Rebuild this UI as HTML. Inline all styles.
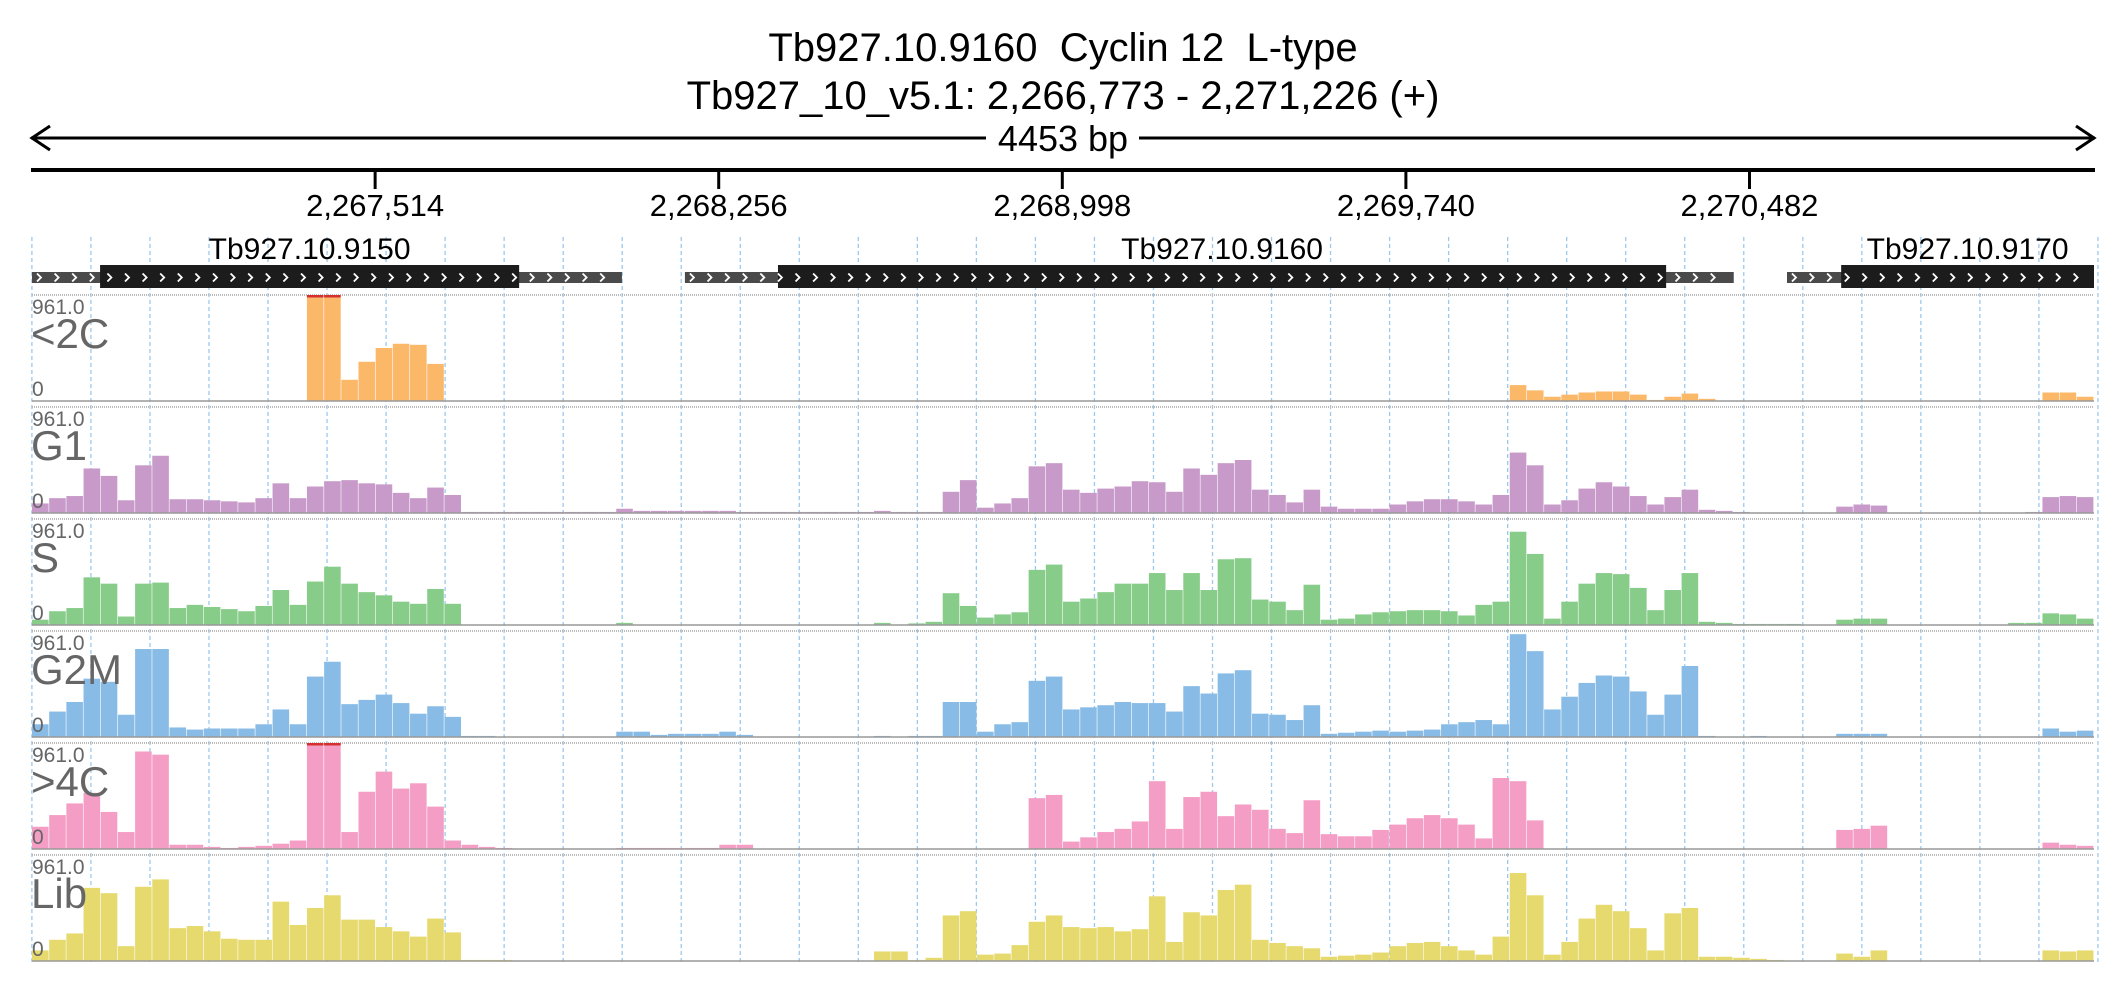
<!DOCTYPE html>
<html><head><meta charset="utf-8"><style>
html,body{margin:0;padding:0;background:#fff;}
svg{display:block;font-family:"Liberation Sans",sans-serif;}
text{white-space:pre;}
</style></head><body>
<svg id="chart" width="2126" height="1000" viewBox="0 0 2126 1000" xmlns="http://www.w3.org/2000/svg">
<text x="1063" y="61" text-anchor="middle" font-size="40" fill="#000" xml:space="preserve">Tb927.10.9160  Cyclin 12  L-type</text>
<text x="1063" y="109" text-anchor="middle" font-size="40" fill="#000">Tb927_10_v5.1: 2,266,773 - 2,271,226 (+)</text>
<g stroke="#000" stroke-width="3" fill="none">
<line x1="31" y1="138" x2="2095" y2="138"/>
<polyline points="50,126 32,138 50,150"/>
<polyline points="2076,126 2094,138 2076,150"/>
</g>
<rect x="986" y="120" width="153" height="36" fill="#fff"/>
<text x="1063" y="151" text-anchor="middle" font-size="36" fill="#000">4453 bp</text>
<line x1="31" y1="170" x2="2095" y2="170" stroke="#000" stroke-width="4"/>
<g id="ticks"></g>
<g id="grid"></g>
<g id="genes"></g>
<g id="tracks"></g>
</svg>
<script>
const tickLabels = ["2,267,514","2,268,256","2,268,998","2,269,740","2,270,482"];
const tickPositions = [2267514,2268256,2268998,2269740,2270482];
const regionStart = 2266773, regionEnd = 2271226;
const geneNames = ["Tb927.10.9150","Tb927.10.9160","Tb927.10.9170"];
const geneUtrStart = [2266773,2268183,2270563];
const geneUtrEnd = [2268047,2270448,2271226];
const geneCdsStart = [2266920,2268384,2270680];
const geneCdsEnd = [2267825,2270302,2271226];
const trackNames = ["<2C","G1","S","G2M",">4C","Lib"];
const trackMaxLabel = "961.0";
const yMax = 100;
const vLt2C = [0,0,0,0,0,0,0,0,0,0,0,0,0,0,0,0,100,100,20,37,50,54,53,35,0,0,0,0,0,0,0,0,0,0,0,0,0,0,0,0,0,0,0,0,0,0,0,0,0,0,0,0,0,0,0,0,0,0,0,0,
 0,0,0,0,0,0,0,0,0,0,0,0,0,0,0,0,0,0,0,0,0,0,0,0,0,0,15,10,4,6,8,9,9,6,1,4,7,2,0,0,0,0,0,0,0,0,0,0,0,0,0,0,0,0,0,0,0,8,8,4];
const vG1 = [9,14,16,42,35,12,45,54,13,13,12,11,10,14,28,14,25,30,31,28,27,19,14,24,17,1,1,1,1,1,1,1,1,1,4,2,2,2,2,2,2,1,1,1,1,1,1,1,1,2,1,1,1,20,31,5,9,14,44,47,
 22,19,23,25,30,29,20,42,36,47,50,22,17,10,22,6,4,4,4,8,11,13,13,11,8,17,57,45,8,12,23,29,25,16,8,15,22,3,2,1,0.5,0.5,0.5,0.5,0.5,6,8,7,0.5,0.5,0.5,0.5,0.5,0.5,0.5,0.5,1,15,16,15];
const vS = [5,13,16,45,39,8,39,40,16,19,17,15,13,18,33,19,41,55,39,31,28,22,20,34,20,0.5,0.5,0.5,0.5,0.5,0.5,0.5,0.5,0.5,2,0.5,0.5,0.5,0.5,0.5,0.5,0.5,0.5,0.5,0.5,0.5,0.5,0.5,0.5,2,0.5,1.5,3,30,18,7,10,12,52,57,
 22,25,31,39,39,49,33,49,33,62,63,24,22,14,38,5,6,10,12,13,14,14,13,9,19,22,88,67,6,22,39,49,48,35,14,33,49,3,2,1,1,1,1,0,0,5,6,6,0.3,0.3,0.3,0.3,0.3,0.3,0.3,2,2,11,10,6];
const vG2M = [12,24,33,55,52,21,83,83,9,7,8,8,8,12,26,12,57,71,31,35,40,32,22,29,19,1,1,0.3,0.3,0.3,0.3,0.3,0.3,0.3,5,5,2,3,3,3,5,2,0.3,0.3,0.3,0.3,0.3,0.3,0.3,1,0.5,1,1,33,33,5,12,14,53,57,
 26,28,30,33,32,32,24,48,41,60,63,22,21,16,30,3,4,5,6,5,6,7,12,14,16,12,97,81,26,38,51,58,57,43,21,40,67,1,0.5,0.5,1,0.5,0.3,0.3,0.3,3,3,3,0.3,0.3,0.3,0.3,0.3,0.3,0.3,0.3,0.3,8,5,6];
const vGt4C = [21,32,43,53,35,16,92,89,4,4,2,1,2,3,5,8,100,100,16,54,73,57,62,40,8,4,2,1,0.3,0.3,0.3,0.3,0.3,0.3,1,1,1,1,1,1,4,4,0.3,0.3,0.3,0.3,0.3,0.3,0.3,0.3,0.3,0.3,0.3,0.3,0.3,0.5,0.5,0.5,48,51,
 7,11,16,19,26,64,19,49,54,31,42,37,19,15,46,14,12,12,18,23,29,32,29,23,10,67,64,27,0,0,0,0,0,0,0,0,0,0,0,0,0,0,0,0,0,18,19,22,0,0,0,0,0,0,0,0,0,6,4,3];
const vLib = [10,20,26,69,64,14,70,77,31,33,28,21,20,20,56,34,50,62,39,39,32,28,23,40,27,1,1,1,0.5,0.5,0.5,0.5,0.5,0.5,0.5,0.5,0.5,0.5,0.5,0.5,0.5,0.5,0.5,0.5,0.5,0.5,0.5,0.5,0.5,9,9,1,3,43,47,6,7,15,37,43,
 32,31,32,28,30,61,18,46,43,67,72,20,17,14,12,4,5,6,8,14,17,18,14,10,6,23,83,62,6,18,40,53,47,31,10,45,50,4,4,3,2,1,0.5,0.5,0.5,7,4,10,0.3,0.3,0.3,0.3,0.3,0.3,0.3,0.3,0.3,10,9,10];
const trackColors = ["#fbb868","#c79ac9","#88cc8a","#88bce6","#f49ec6","#e6da6e"];

const NS="http://www.w3.org/2000/svg";
const plotL=32, plotR=2094;
function xScale(bp){return plotL+(bp-regionStart)/(regionEnd-regionStart)*(plotR-plotL);}
function mk(tag,attrs,parent){const e=document.createElementNS(NS,tag);for(const k in attrs)e.setAttribute(k,attrs[k]);parent.appendChild(e);return e;}

const ticksG=document.getElementById('ticks');
tickPositions.forEach((p,i)=>{
  const x=xScale(p);
  const l=mk('line',{x1:x,y1:170,x2:x,y2:189,stroke:'#000','stroke-width':3},ticksG);
  
  
  const t=mk('text',{x:x,y:216,'text-anchor':'middle','font-size':31,fill:'#000'},ticksG);
  t.textContent=tickLabels[i];
  
  
});

const gridG=document.getElementById('grid');
for(let k=0;k<36;k++){
  const x=31.9+59.03*k;
  const l=mk('line',{x1:x,y1:237,x2:x,y2:965,stroke:'#9cc8ee','stroke-width':1.3,'stroke-dasharray':'4,3'},gridG);
  
  
}

const genesG=document.getElementById('genes');
function chevrons(x1,x2,yc,g){
  for(let x=x1+5;x+7<x2;x+=17.6){
    const c=mk('polyline',{points:`${x},${yc-4} ${x+4},${yc} ${x},${yc+4}`,stroke:'#fff','stroke-width':1.8,fill:'none'},g);
    
    
  }
}
geneNames.forEach((n,i)=>{
  const g=mk('g',{},genesG);
  
  
  const u1=xScale(geneUtrStart[i]),u2=xScale(geneUtrEnd[i]);
  const c1=xScale(geneCdsStart[i]),c2=xScale(geneCdsEnd[i]);
  const u=mk('rect',{x:u1,y:272,width:u2-u1,height:11,fill:'#4a4a4a'},g);
  
  
  const c=mk('rect',{x:c1,y:265,width:c2-c1,height:23,fill:'#1c1c1c'},g);
  
  
  chevrons(u1,u2,277.5,g);
  const t=mk('text',{x:(c1+c2)/2,y:259,'text-anchor':'middle','font-size':30,fill:'#000'},g);
  t.textContent=n;
  
  
});

const tracksG=document.getElementById('tracks');
const series=[vLt2C,vG1,vS,vG2M,vGt4C,vLib];
const trackTop0=295, pitch=112, trackH=106;
series.forEach((vals,ti)=>{
  const top=trackTop0+ti*pitch, base=top+trackH;
  const g=mk('g',{},tracksG);
  
  
  const tl=mk('line',{x1:plotL,y1:top,x2:plotR,y2:top,stroke:'#bbb','stroke-width':2,'stroke-dasharray':'1,1'},g);
  
  
  const n=vals.length, bw=(plotR-plotL)/n;
  const yScale=v=>base-Math.min(v,yMax)/yMax*trackH;
  vals.forEach((v,i)=>{
    if(v<=0)return;
    const y=yScale(v);
    const r=mk('rect',{x:plotL+i*bw,y:y,width:bw-0.6,height:base-y,fill:trackColors[ti]},g);
    
    
    if(v>=yMax){
      const c=mk('rect',{x:plotL+i*bw,y:top,width:bw-0.6,height:2.5,fill:'#d43030'},g);
      
      
    }
  });
  const bl=mk('line',{x1:plotL,y1:base,x2:plotR,y2:base,stroke:'#999','stroke-width':1.5},g);
  
  
  const mx=mk('text',{x:plotL,y:top+19,'font-size':21,fill:'#666'},g);
  mx.textContent=trackMaxLabel;
  
  
  const nm=mk('text',{x:plotL-1,y:top+53,'font-size':42,fill:'#666'},g);
  nm.textContent=trackNames[ti];
  
  
  const z=mk('text',{x:plotL,y:base-5,'font-size':21,fill:'#666'},g);
  z.textContent='0';
  
  
});
</script>
</body></html>
